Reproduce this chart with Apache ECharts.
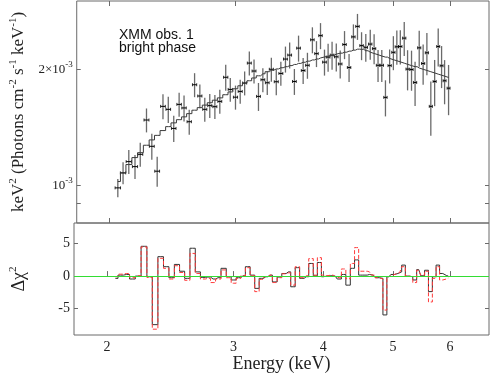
<!DOCTYPE html>
<html>
<head>
<meta charset="utf-8">
<script src="https://cdn.jsdelivr.net/npm/echarts@6/dist/echarts.min.js"></script>
<style>
html,body{margin:0;padding:0;background:#fff}
#chart{width:491px;height:376px}
</style>
</head>
<body>
<div id="chart"></div>
<script>
// spectrum bins (keV), flux in units of 1e-3 photons cm^-2 s^-1 keV^-1 (times keV^2)
const energy = [2.055,2.090,2.129,2.172,2.209,2.254,2.293,2.333,2.377,2.418,
  2.461,2.504,2.544,2.587,2.632,2.677,2.720,2.764,2.810,2.855,
  2.910,2.953,3.003,3.049,3.093,3.140,3.188,3.234,3.280,3.327,
  3.371,3.425,3.476,3.528,3.576,3.631,3.680,3.735,3.787,3.848,
  3.899,3.950,4.001,4.048,4.100,4.156,4.209,4.268,4.331,4.392,
  4.450,4.509,4.571,4.637,4.695,4.755,4.813,4.870,4.936,4.996,
  5.052,5.109,5.174,5.230,5.297,5.358,5.430,5.499,5.566,5.637,
  5.707,5.773,5.836,5.893,5.969]
const energyErr = [0.018,0.018,0.018,0.018,0.018,0.018,0.018,0.018,0.018,0.018,
  0.018,0.018,0.018,0.018,0.018,0.018,0.018,0.018,0.018,0.018,
  0.020,0.020,0.020,0.020,0.020,0.020,0.020,0.020,0.020,0.020,
  0.022,0.022,0.022,0.022,0.022,0.022,0.022,0.022,0.022,0.022,
  0.022,0.022,0.024,0.024,0.024,0.024,0.024,0.024,0.024,0.024,
  0.025,0.025,0.025,0.025,0.025,0.026,0.026,0.026,0.026,0.026,
  0.027,0.027,0.027,0.027,0.027,0.028,0.028,0.028,0.028,0.028,
  0.028,0.028,0.028,0.028,0.028]
const flux = [0.986,1.078,1.153,1.119,1.204,1.477,1.263,1.089,1.602,1.574,
  1.405,1.621,1.587,1.462,1.822,1.704,1.574,1.609,1.599,1.650,
  1.905,1.772,1.692,1.751,1.841,2.073,1.977,1.700,1.877,1.844,
  1.998,1.855,1.949,2.123,2.174,1.858,2.266,1.983,2.046,2.381,
  2.193,2.441,2.085,2.148,2.174,2.152,2.062,2.315,2.019,2.423,
  2.579,2.300,2.277,2.321,2.259,2.046,2.046,1.690,2.042,2.210,
  2.284,2.288,2.405,2.000,1.995,1.847,2.270,2.068,2.204,1.602,
  1.858,2.288,2.040,1.866,1.785]
const fluxErr = [0.053,0.070,0.082,0.080,0.086,0.105,0.098,0.097,0.119,0.122,
  0.109,0.116,0.123,0.109,0.130,0.121,0.112,0.115,0.114,0.118,
  0.147,0.126,0.121,0.125,0.131,0.148,0.141,0.141,0.134,0.131,
  0.142,0.143,0.139,0.164,0.168,0.143,0.175,0.153,0.158,0.184,
  0.169,0.189,0.161,0.179,0.181,0.179,0.172,0.193,0.168,0.187,
  0.199,0.191,0.189,0.207,0.201,0.194,0.194,0.181,0.206,0.223,
  0.231,0.231,0.243,0.238,0.237,0.241,0.243,0.246,0.275,0.257,
  0.254,0.258,0.254,0.244,0.265]
const model = [1.024,1.078,1.133,1.181,1.216,1.271,1.312,1.348,1.387,1.420,
  1.452,1.480,1.505,1.534,1.566,1.590,1.614,1.637,1.662,1.685,
  1.717,1.746,1.779,1.811,1.839,1.866,1.897,1.922,1.945,1.969,
  1.987,2.002,2.016,2.029,2.042,2.056,2.069,2.083,2.097,2.112,
  2.124,2.137,2.150,2.161,2.173,2.186,2.199,2.212,2.226,2.239,
  2.252,2.250,2.231,2.212,2.195,2.179,2.162,2.148,2.131,2.115,
  2.102,2.088,2.072,2.058,2.042,2.029,2.013,1.998,1.984,1.969,
  1.955,1.941,1.929,1.918,1.903]
// delta chi^2 residuals, two fits
const resBlack = [-0.35,0.15,0.25,-0.45,0,4.6,-0.1,-7.5,3.0,1.45,
  -0.25,1.8,0.75,-0.35,4.3,0.65,-0.2,-0.15,-0.45,-0.25,
  1.2,-0.1,-0.6,-0.25,0.05,1.45,0.15,-1.9,-0.35,-0.1,
  0.15,-0.9,-0.15,0.4,0.65,-1.65,1.3,-0.35,-0.1,1.95,
  0.05,2.1,-0.1,0,0.05,0,-0.45,0.25,-1.4,1.2,
  2.5,0.15,0.15,0.25,0.15,-0.25,-0.35,-6.0,-0.1,0.25,
  0.4,0.65,1.7,0,-0.1,-0.6,1.0,0.05,0.9,-2.4,
  -0.1,1.7,0.4,0.1,0]
const resRed = [-0.1,0.3,0.4,-0.25,0.05,4.5,-0.2,-8.2,2.75,1.2,
  -0.45,1.6,0.55,-0.65,3.5,0.4,-0.45,-0.35,-1.0,-0.45,
  0.95,-0.25,-1.1,-0.35,0.05,1.3,0.05,-2.4,-0.5,-0.1,
  0.15,-1.0,-0.25,0.35,0.5,-1.4,1.45,-0.25,0.05,2.7,
  0.15,2.85,0.15,0.05,0.15,-0.1,-0.25,1.1,-0.4,1.95,
  4.4,0.75,0.75,0.65,0.15,-0.25,-0.45,-5.25,-0.1,0.15,
  0.35,0.55,1.45,0,-0.1,-1.0,0.9,0.15,0.75,-4.0,
  -0.35,1.45,-0.6,-0.45,-0.3]

const xTicks = [2, 3, 4, 5, 6]
const fluxTicks = [0.9, 1, 2]
const fluxLabels = [1, 2]
const resTicks = [-5, 0, 5]

const serif = 'Liberation Serif'
const frame = '#6b6b6b'
const txt = '#222'

let chart = echarts.init(document.getElementById('chart'), null, { renderer: 'canvas' })

function xAx(grid, pos, labels) {
  return {
    type: 'log', logBase: 10, gridIndex: grid, position: pos,
    min: 1.8, max: 6.8,
    axisLine: { show: false },
    axisTick: { show: true, inside: true, length: 5, customValues: xTicks, lineStyle: { color: frame } },
    axisLabel: { show: labels, customValues: xTicks, margin: 5, fontFamily: serif, fontSize: 14, color: txt },
    splitLine: { show: false }
  }
}

let errData = energy.map((e, i) => [e, flux[i], energyErr[i], fluxErr[i]])

let option = {
  animation: false,
  title: {
    text: 'XMM obs. 1\nbright phase',
    left: 114, top: 24,
    textStyle: { fontFamily: 'Liberation Sans', fontSize: 14, fontWeight: 'normal', color: '#111', lineHeight: 13 }
  },
  grid: [
    { left: 70, right: 2, top: 1, height: 222, show: true, borderColor: frame, borderWidth: 1 },
    { left: 70, right: 2, top: 223, height: 112, show: true, borderColor: frame, borderWidth: 1 }
  ],
  xAxis: [
    xAx(0, 'bottom', false),
    xAx(0, 'top', false),
    Object.assign(xAx(1, 'bottom', true), {
      name: 'Energy (keV)', nameLocation: 'middle', nameGap: 20,
      nameTextStyle: { fontFamily: serif, fontSize: 18, color: txt }
    })
  ],
  yAxis: [
    {
      type: 'log', logBase: 10, gridIndex: 0, position: 'left', min: 0.8, max: 3,
      axisLine: { show: false },
      axisTick: { show: true, inside: true, length: 4, customValues: fluxTicks, lineStyle: { color: frame } },
      axisLabel: {
        customValues: fluxLabels, margin: 4,
        formatter: v => Math.round(v) === 1 ? '{b|10}{s|-3}' : '{b|2×10}{s|-3}',
        rich: {
          b: { fontFamily: serif, fontSize: 13, color: txt, lineHeight: 18 },
          s: { fontFamily: serif, fontSize: 9, color: txt, lineHeight: 10, verticalAlign: 'top' }
        }
      },
      splitLine: { show: false },
      name: '{m|keV}{s|2}{m| (Photons cm}{s|-2}{m| s}{s|-1}{m| keV}{s|-1}{m|)}',
      nameLocation: 'middle', nameGap: 45,
      nameTextStyle: {
        rich: {
          m: { fontFamily: serif, fontSize: 17, color: txt, lineHeight: 22 },
          s: { fontFamily: serif, fontSize: 11, color: txt, lineHeight: 12, verticalAlign: 'top' }
        }
      }
    },
    {
      type: 'log', logBase: 10, gridIndex: 0, position: 'right', min: 0.8, max: 3,
      axisLine: { show: false },
      axisTick: { show: true, inside: true, length: 4, customValues: fluxTicks, lineStyle: { color: frame } },
      axisLabel: { show: false },
      splitLine: { show: false }
    },
    {
      type: 'value', gridIndex: 1, position: 'left', min: -9.1, max: 8.2,
      axisLine: { show: false },
      axisTick: { show: true, inside: true, length: 4, customValues: resTicks, lineStyle: { color: frame } },
      axisLabel: { customValues: resTicks, margin: 4, fontFamily: serif, fontSize: 14, color: txt },
      splitLine: { show: false },
      name: '{m|Δχ}{s|2}', nameLocation: 'middle', nameGap: 44,
      nameTextStyle: {
        rich: {
          m: { fontFamily: serif, fontSize: 18, color: txt, lineHeight: 22 },
          s: { fontFamily: serif, fontSize: 11, color: txt, lineHeight: 12, verticalAlign: 'top' }
        }
      }
    },
    {
      type: 'value', gridIndex: 1, position: 'right', min: -9.1, max: 8.2,
      axisLine: { show: false },
      axisTick: { show: true, inside: true, length: 4, customValues: resTicks, lineStyle: { color: frame } },
      axisLabel: { show: false },
      splitLine: { show: false }
    }
  ],
  series: [
    {
      name: 'data', type: 'custom', xAxisIndex: 0, yAxisIndex: 0,
      encode: { x: 0, y: 1 },
      data: errData,
      renderItem: function (params, api) {
        let e = api.value(0), f = api.value(1), ex = api.value(2), ey = api.value(3)
        let c = api.coord([e, f])
        let lo = api.coord([e, f - ey])
        let hi = api.coord([e, f + ey])
        let l = api.coord([e - ex, f])
        let r = api.coord([e + ex, f])
        return {
          type: 'group',
          children: [
            { type: 'line', shape: { x1: c[0], y1: lo[1], x2: c[0], y2: hi[1] }, style: { stroke: '#6a6a6a', lineWidth: 1.3 } },
            { type: 'line', shape: { x1: l[0], y1: c[1], x2: r[0], y2: c[1] }, style: { stroke: '#000', lineWidth: 1 } },
            { type: 'line', shape: { x1: l[0], y1: c[1] - 1.5, x2: l[0], y2: c[1] + 1.5 }, style: { stroke: '#000', lineWidth: 0.8 } },
            { type: 'line', shape: { x1: r[0], y1: c[1] - 1.5, x2: r[0], y2: c[1] + 1.5 }, style: { stroke: '#000', lineWidth: 0.8 } }
          ]
        }
      }
    },
    {
      name: 'model', type: 'line', xAxisIndex: 0, yAxisIndex: 0, step: 'middle',
      data: energy.map((e, i) => [e, model[i]]),
      symbol: 'none',
      lineStyle: { color: '#3a3a3a', width: 1 }
    },
    {
      name: 'resid1', type: 'line', xAxisIndex: 2, yAxisIndex: 2, step: 'middle',
      data: energy.map((e, i) => [e, resBlack[i]]),
      symbol: 'none',
      lineStyle: { color: '#333', width: 1 },
      markLine: {
        silent: true, symbol: ['none', 'none'], label: { show: false },
        lineStyle: { color: '#33dd33', width: 1.2, type: 'solid' },
        data: [{ yAxis: 0 }]
      }
    },
    {
      name: 'resid2', type: 'line', xAxisIndex: 2, yAxisIndex: 2, step: 'middle',
      data: energy.map((e, i) => [e, resRed[i]]),
      symbol: 'none',
      lineStyle: { color: '#ff3b3b', width: 1, type: [4, 2] }
    }
  ]
}

chart.setOption(option)
window.addEventListener('resize', chart.resize)
</script>
</body>
</html>
